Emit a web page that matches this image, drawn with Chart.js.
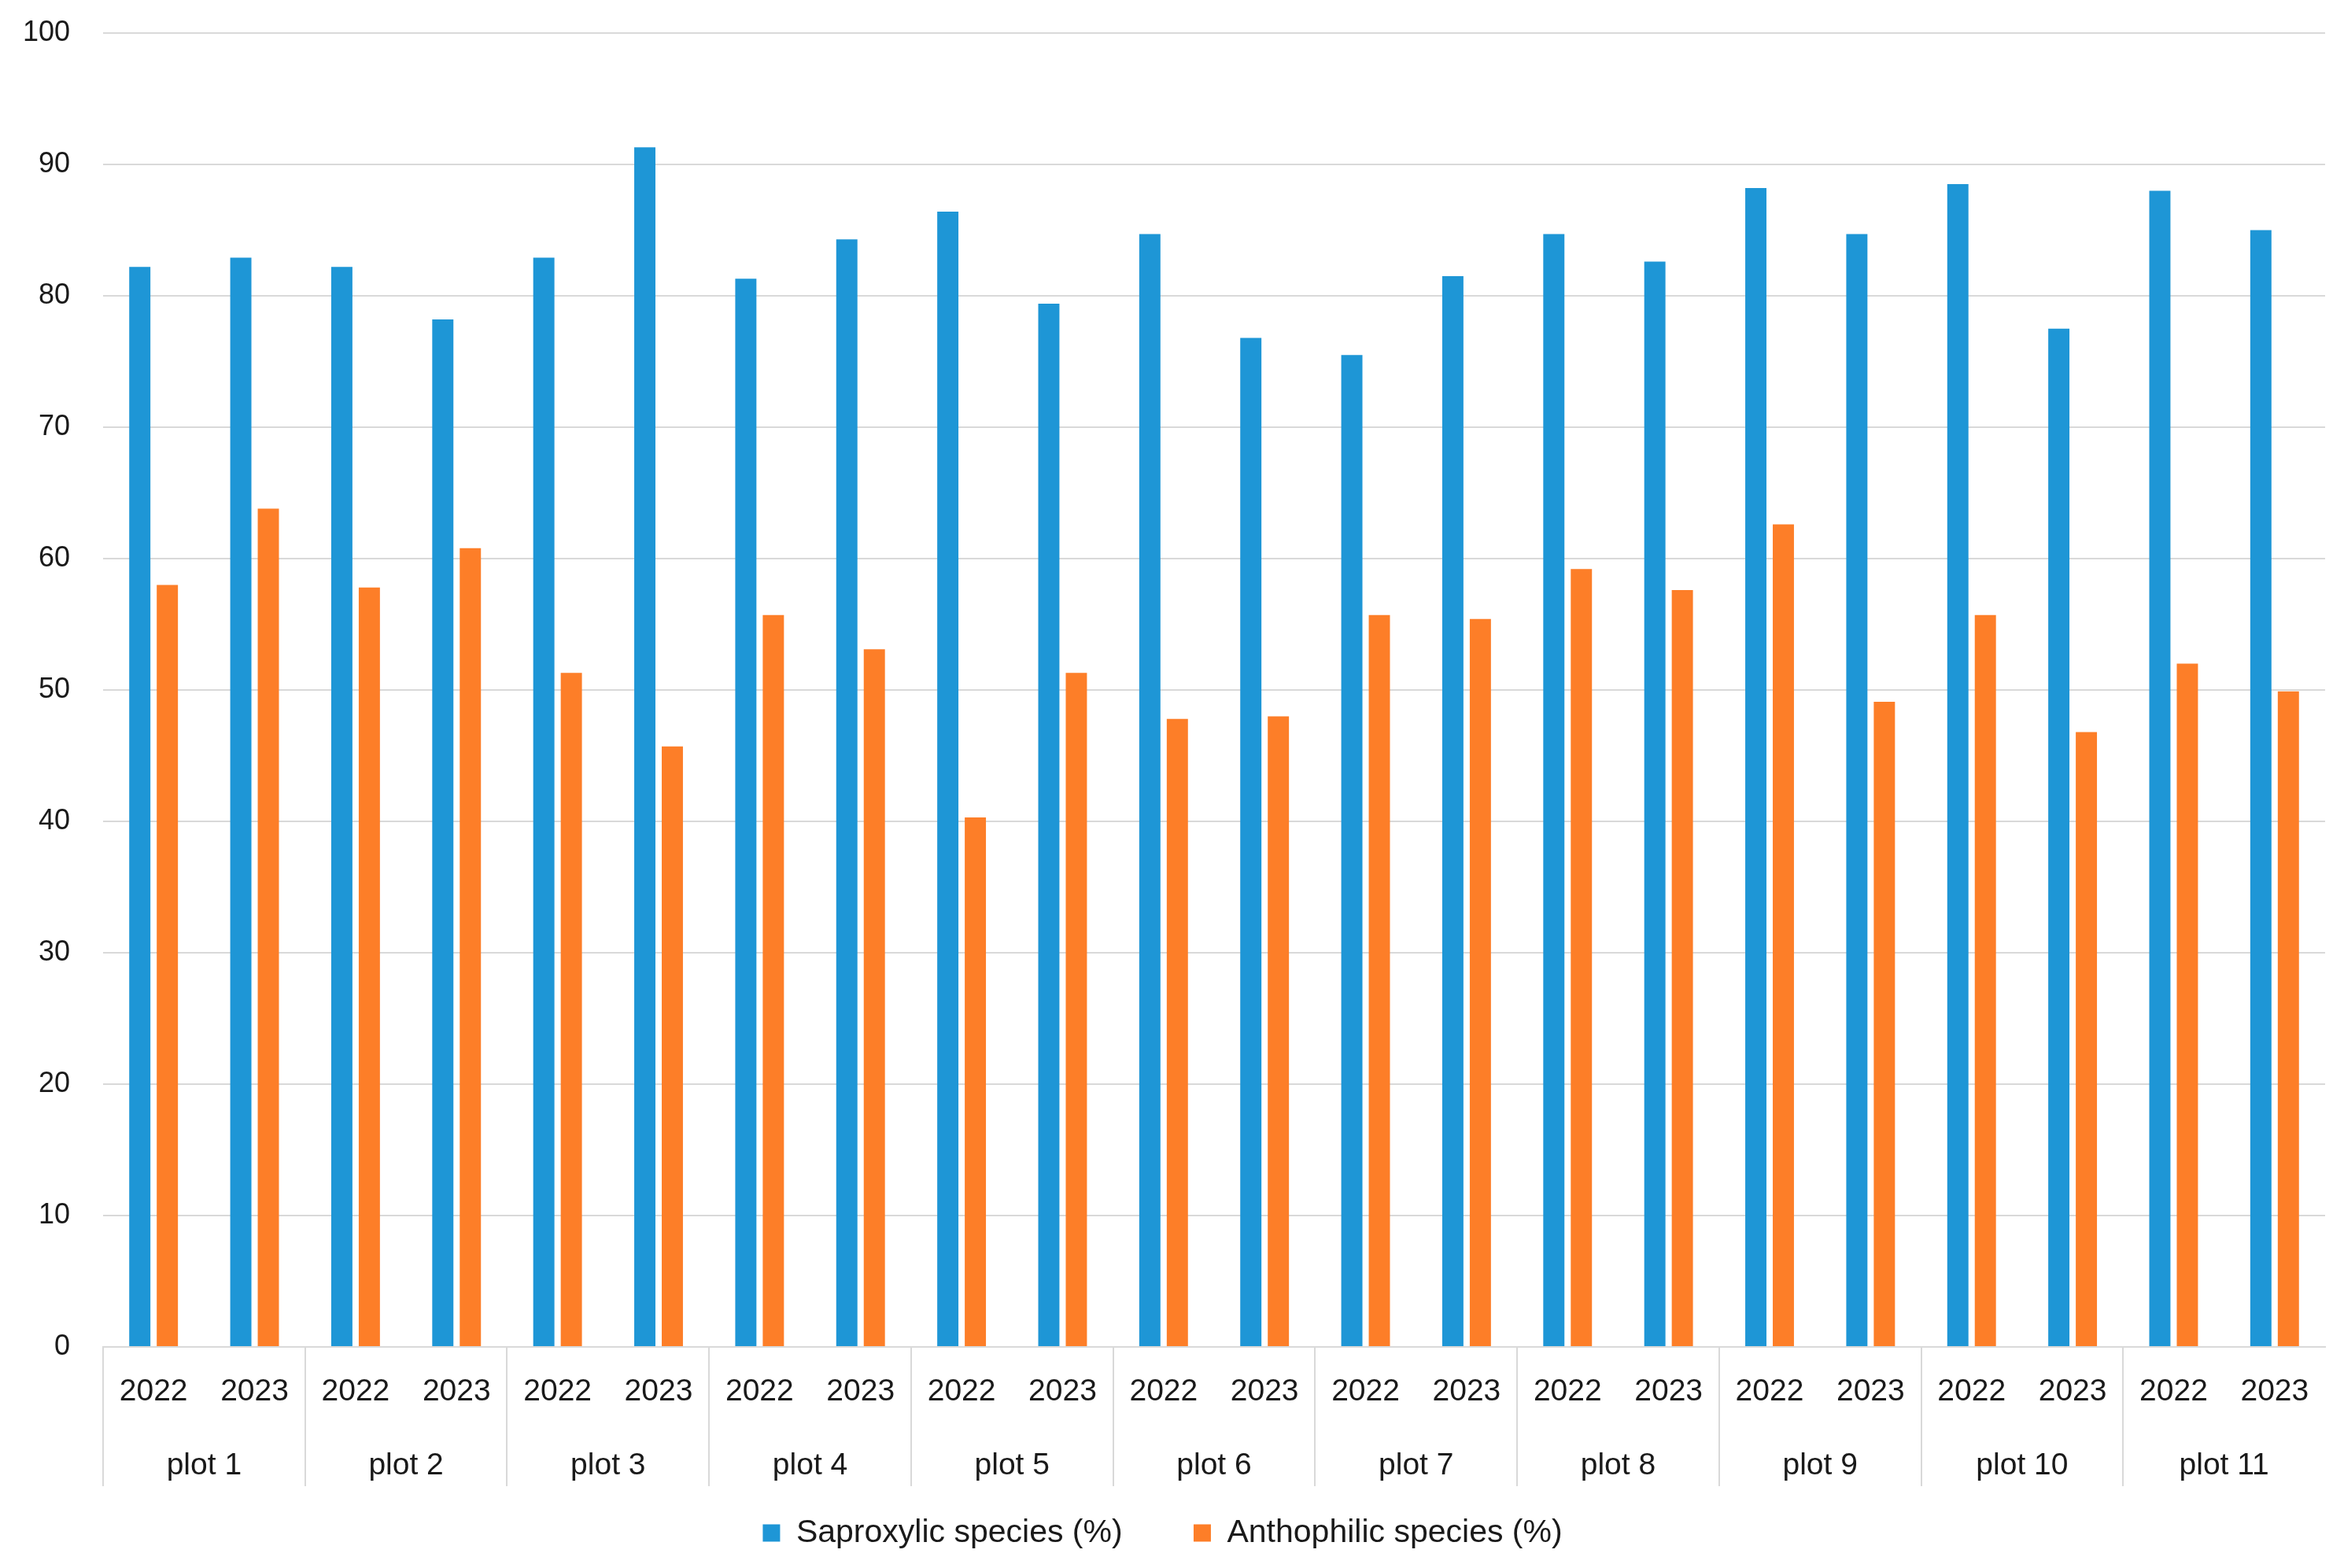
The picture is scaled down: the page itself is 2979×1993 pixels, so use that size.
<!DOCTYPE html>
<html>
<head>
<meta charset="utf-8">
<script src="https://cdn.jsdelivr.net/npm/chart.js@4/dist/chart.umd.min.js"></script>
<style>
    body { margin: 0; background: #ffffff; }
    canvas { display: block; }
</style>
</head>
<body>
<canvas id="graphique" width="2979" height="1993"></canvas>
<script>
/********************/
/* Données globales */
/********************/
//Années (une par barre groupée)
var annees = ['2022', '2023', '2022', '2023', '2022', '2023', '2022', '2023', '2022', '2023', '2022',
              '2023', '2022', '2023', '2022', '2023', '2022', '2023', '2022', '2023', '2022', '2023'];
//Parcelles (deuxième niveau de l'axe X)
var parcelles = ['plot 1', 'plot 2', 'plot 3', 'plot 4', 'plot 5', 'plot 6', 'plot 7', 'plot 8', 'plot 9', 'plot 10', 'plot 11'];
//Espèces saproxyliques (%)
var saproxyliques = [82.2, 82.9, 82.2, 78.2, 82.9, 91.3, 81.3, 84.3, 86.4, 79.4, 84.7,
                     76.8, 75.5, 81.5, 84.7, 82.6, 88.2, 84.7, 88.5, 77.5, 88.0, 85.0];
//Espèces anthophiles (%)
var anthophiles = [58.0, 63.8, 57.8, 60.8, 51.3, 45.7, 55.7, 53.1, 40.3, 51.3, 47.8,
                   48.0, 55.7, 55.4, 59.2, 57.6, 62.6, 49.1, 55.7, 46.8, 52.0, 49.9];
//Graduations de l'axe Y
var yMin = 0;
var yMax = 100;
var yPas = 10;

var couleurGrille = '#d9d9d9';
var police = "'Liberation Sans', Arial, sans-serif";

/*********************/
/* Création du graphe */
/*********************/
var ctx = document.getElementById('graphique').getContext('2d');
var especesChart = new Chart(ctx, {
    type: 'bar',
    data: {
        labels: annees,
        datasets: [{
            label: 'Saproxylic species (%)',
            data: saproxyliques,
            backgroundColor: '#1e96d6',
            borderWidth: 0
        }, {
            label: 'Anthophilic species (%)',
            data: anthophiles,
            backgroundColor: '#fd7e28',
            borderWidth: 0
        }]
    },
    options: {
        responsive: false,
        animation: false,
        devicePixelRatio: 1,
        datasets: {
            bar: { categoryPercentage: 0.545, barPercentage: 0.77 }
        },
        layout: {
            padding: { left: 0, right: 24, top: 0, bottom: 14 }
        },
        plugins: {
            tooltip: { enabled: false },
            legend: {
                position: 'bottom',
                labels: {
                    boxWidth: 22,
                    boxHeight: 22,
                    padding: 22,
                    color: '#1a1a1a',
                    font: { family: police, size: 41 },
                    //Espace supplémentaire entre les deux entrées de la légende
                    generateLabels: function(chart) {
                        var items = Chart.defaults.plugins.legend.labels.generateLabels(chart);
                        if (items.length > 1) { items[0].text = items[0].text + '      '; }
                        return items;
                    }
                }
            }
        },
        scales: {
            //Axe des années (avec les séparateurs de parcelles)
            x: {
                type: 'category',
                offset: true,
                grid: {
                    offset: true,
                    drawOnChartArea: false,
                    drawTicks: true,
                    tickLength: 177,
                    lineWidth: 2,
                    // un trait sur deux => limites des parcelles
                    color: function(c) { return c.index % 2 === 0 ? couleurGrille : 'rgba(0,0,0,0)'; }
                },
                border: { display: true, color: couleurGrille, width: 2 },
                ticks: {
                    padding: -143,
                    autoSkip: false,
                    maxRotation: 0,
                    color: '#1a1a1a',
                    font: { family: police, size: 39 }
                },
                afterFit: function(s) { s.height = 77; }
            },
            //Axe des parcelles
            x2: {
                type: 'category',
                position: 'bottom',
                labels: parcelles,
                offset: true,
                grid: { display: false },
                border: { display: false },
                ticks: {
                    padding: 43,
                    autoSkip: false,
                    maxRotation: 0,
                    color: '#1a1a1a',
                    font: { family: police, size: 39 }
                },
                afterFit: function(s) { s.height = 117; }
            },
            y: {
                min: yMin,
                max: yMax,
                ticks: {
                    stepSize: yPas,
                    padding: 42,
                    color: '#1a1a1a',
                    font: { family: police, size: 36 }
                },
                grid: {
                    color: couleurGrille,
                    lineWidth: 2,
                    drawTicks: false
                },
                border: { display: false },
                afterFit: function(s) {
                    s.width = 131;
                    //La marge haute ne dépend pas de l'espacement des étiquettes
                    s.paddingTop = 42;
                    s.paddingBottom = 22;
                }
            }
        }//Fin scales
    }//Fin options
});//Fin new Chart
</script>
</body>
</html>
